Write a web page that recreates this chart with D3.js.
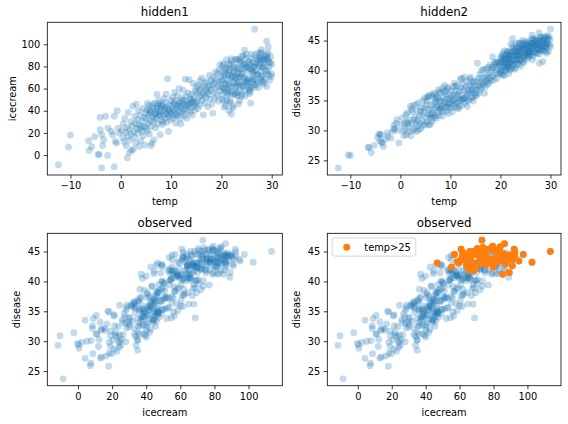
<!DOCTYPE html>
<html><head><meta charset="utf-8">
<script src="https://cdn.jsdelivr.net/npm/d3@7"></script>
<style>
body{margin:0;background:#fff}
svg{display:block}
text{font-family:"DejaVu Sans",sans-serif;fill:#000}
</style>
</head><body>
<svg id="chart" width="568" height="424"></svg>
<script>
// ---------- data ----------
const temp = [
 -12.4,-10.4,-10.0,-6.4,-6.3,-5.8,-5.2,-4.5,-4.3,-3.8,
 -4.1,-3.0,-2.6,-1.3,-1.3,-0.7,-4.1,-3.8,-3.4,-3.6,
 -2.5,-1.9,-1.6,-1.1,-0.8,-0.5,-0.3,1.3,
 0.2,0.4,0.5,0.7,0.8,1.0,1.1,1.2,1.4,1.5,
 1.6,1.7,1.8,2.0,2.1,2.2,2.3,2.4,2.5,2.6,
 2.7,2.8,2.9,3.0,3.1,3.2,3.3,3.4,3.5,3.6,
 3.7,3.8,3.9,4.0,4.1,4.2,4.3,4.4,4.5,4.6,
 4.7,4.8,4.9,5.0,
 5.1,5.2,5.3,5.4,5.5,5.6,5.7,5.8,5.9,6.0,
 6.1,6.2,6.3,6.4,6.5,6.6,6.7,6.8,6.9,7.0,
 7.1,7.2,7.3,7.4,7.5,7.6,7.7,7.8,7.9,8.0,
 8.1,8.2,8.3,8.4,8.5,8.6,8.7,8.8,8.9,9.0,
 9.1,9.2,9.3,9.4,9.5,9.6,9.7,9.8,9.9,10.0,
 5.3,6.0,6.6,7.2,7.8,8.4,9.0,9.6,8.0,7.0,
 6.3,5.7,8.8,9.4,7.5,
 10.1,10.2,10.3,10.4,10.5,10.6,10.7,10.8,10.9,11.0,
 11.1,11.2,11.3,11.4,11.5,11.6,11.7,11.8,11.9,12.0,
 12.1,12.2,12.3,12.4,12.5,12.6,12.7,12.8,12.9,13.0,
 13.1,13.2,13.3,13.4,13.5,13.6,13.7,13.8,13.9,14.0,
 14.1,14.2,14.3,14.4,14.5,14.6,14.7,14.8,14.9,15.0,
 10.4,11.0,11.6,12.2,12.8,13.4,14.0,14.6,10.8,12.0,
 15.1,15.2,15.3,15.4,15.5,15.6,15.7,15.8,15.9,16.0,
 16.1,16.2,16.3,16.4,16.5,16.6,16.7,16.8,16.9,17.0,
 17.1,17.2,17.3,17.4,17.5,17.6,17.7,17.8,17.9,18.0,
 18.1,18.2,18.3,18.4,18.5,18.6,18.7,18.8,18.9,19.0,
 19.1,19.2,19.3,19.4,19.5,19.6,19.7,19.8,19.9,20.0,
 20.1,20.2,20.3,20.4,20.5,20.6,20.7,20.8,20.9,21.0,
 21.1,21.2,21.3,21.4,21.5,21.6,21.7,21.8,21.9,22.0,
 22.1,22.2,22.3,22.4,22.5,22.6,22.7,22.8,22.9,23.0,
 23.1,23.2,23.3,23.4,23.5,23.6,23.7,23.8,23.9,24.0,
 24.1,24.2,24.3,24.4,24.5,24.6,24.7,24.8,24.9,25.0,
 20.05,20.15,20.25,20.35,20.45,20.55,20.65,20.75,20.85,20.95,
 21.05,21.15,21.25,21.35,21.45,21.55,21.65,21.75,21.85,21.95,
 22.05,22.15,22.25,22.35,22.45,22.55,22.65,22.75,22.85,22.95,
 23.05,23.15,23.25,23.35,23.45,23.55,23.65,23.75,23.85,23.95,
 24.05,24.15,24.25,24.35,24.45,24.55,24.65,24.75,24.85,24.95,
 22.0,21.5,23.4,
 25.1,25.2,25.3,25.4,25.5,25.6,25.7,25.8,25.9,26.0,
 26.1,26.2,26.3,26.4,26.5,26.6,26.7,26.8,26.9,27.0,
 27.1,27.2,27.3,27.4,27.5,27.6,27.7,27.8,27.9,28.0,
 28.1,28.2,28.3,28.4,28.5,28.6,28.7,28.8,28.9,29.0,
 29.1,29.2,29.3,29.4,29.5,29.6,29.7,29.8,29.9,30.0,
 25.15,25.35,25.55,25.75,25.95,26.15,26.35,26.55,26.75,26.95,
 27.15,27.35,27.55,27.75,27.95,28.15,28.35,28.55,28.75,28.95,
 25.8,26.6,29.0,29.3,28.0,27.2,28.5,27.8,30.0,27.7,
 26.3,25.5,25.6,26.0,26.4,25.3,29.2,29.4
];
const icecream = [
 -8.7,7.2,18.0,13.0,4.2,7.5,16.5,0.6,0.4,-11.7,
 34.0,35.0,-0.3,-10.5,35.0,40.0,22.8,18.3,13.8,8.7,
 24.3,21.3,18.3,12.3,10.8,24.3,19.8,-2.4,
 22.0,15.5,28.0,12.0,33.0,20.5,8.5,25.0,17.0,38.5,
 23.0,2.4,13.5,30.0,19.0,4.2,26.5,44.0,5.4,21.0,
 16.0,35.0,28.5,11.0,46.0,24.0,32.0,19.5,40.0,27.0,
 7.8,23.5,36.0,13.0,25.5,30.5,21.5,42.0,17.5,34.0,
 26.0,9.0,38.0,24.5,
 33.0,41.0,22.0,28.5,36.5,44.5,19.0,31.0,38.0,8.4,
 26.0,10.8,35.0,42.5,30.0,13.8,47.0,37.5,24.5,40.0,
 33.5,54.7,44.0,28.0,38.5,49.0,35.5,18.3,42.0,31.5,
 46.0,39.0,27.5,44.5,36.0,51.0,40.5,33.0,47.5,37.0,
 43.0,29.5,68.8,41.5,21.3,35.0,45.5,38.5,32.0,49.5,
 46.5,39.5,33.0,42.5,36.5,30.0,55.0,40.0,44.0,37.0,
 45.5,40.5,42.0,36.5,46.5,
 38.0,44.5,52.0,33.5,47.0,40.5,56.5,36.0,28.8,49.0,
 42.5,35.0,53.5,45.0,39.5,60.0,47.5,33.0,28.2,44.0,
 51.0,37.5,46.5,58.5,41.0,49.5,35.5,68.5,44.5,53.0,
 33.3,47.0,40.0,56.0,45.5,68.0,50.5,38.5,47.5,43.0,
 55.0,36.0,49.0,64.6,44.0,52.5,40.5,58.0,46.5,61.5,
 41.0,37.0,44.0,49.0,42.0,45.0,50.0,47.0,46.0,39.0,
 48.0,56.5,42.0,63.0,51.5,58.0,45.0,67.0,53.5,60.5,
 69.4,49.5,56.0,36.3,62.0,54.0,47.0,64.9,59.0,52.0,
 66.5,57.0,43.5,61.0,55.0,72.0,62.5,50.5,58.5,67.5,
 46.0,63.5,37.8,70.0,56.5,65.0,51.0,75.0,60.0,68.0,
 54.0,73.5,62.0,48.5,66.0,77.0,81.4,58.0,70.5,64.0,
 67.2,50.4,80.6,59.8,72.0,43.2,64.4,77.6,56.8,86.0,
 49.2,67.4,55.6,75.8,64.0,72.2,47.4,81.6,60.8,84.5,
 55.2,70.4,42.6,78.8,65.0,75.2,54.4,86.6,61.8,70.0,
 73.2,56.4,86.6,65.8,78.0,49.2,70.4,83.6,62.8,89.0,
 55.2,73.4,61.6,81.8,70.0,94.6,53.4,87.6,66.8,79.0,
 54.1,75.3,60.5,82.7,48.9,69.1,59.3,73.5,44.7,78.9,
 64.1,54.3,72.5,58.7,81.9,62.1,77.3,49.5,69.7,86.9,
 57.1,71.3,44.5,75.7,65.9,81.1,55.3,69.5,60.7,85.9,
 64.1,79.3,53.5,74.7,69.9,58.1,85.3,64.5,77.7,52.9,
 73.1,83.3,62.5,89.7,68.9,78.1,58.3,81.5,65.7,91.0,
 37.0,40.0,46.0,
 79.1,64.2,75.4,59.5,84.6,69.7,81.8,57.0,77.1,87.2,
 68.3,74.4,83.6,63.7,79.8,72.9,90.0,67.2,76.3,63.4,
 82.5,72.6,85.8,60.9,80.0,88.1,69.2,75.4,92.5,66.6,
 78.7,71.8,86.0,64.1,83.2,80.3,68.4,88.6,73.7,61.8,
 85.9,76.0,92.2,72.3,79.4,67.5,83.6,88.8,70.9,82.0,
 68.2,83.4,61.7,77.9,91.1,66.4,75.6,60.9,82.1,87.3,
 72.6,65.8,82.1,91.3,70.5,79.8,66.0,86.3,76.5,90.7,
 46.8,113.5,102.7,97.6,95.0,92.4,89.3,85.4,73.2,86.5,
 79.5,55.3,58.6,61.5,68.4,65.4,87.0,84.0
];
const disease = [
 23.7,25.9,25.8,27.2,27.1,26.3,27.5,28.8,29.4,29.3,
 29.3,28.5,29.6,30.9,30.2,31.8,28.3,28.0,27.3,27.9,
 29.0,28.7,29.8,30.3,31.2,30.0,27.9,31.4,
 31.0,32.1,29.9,29.1,31.1,30.2,32.6,29.3,32.9,31.2,
 30.7,29.8,31.8,34.0,29.1,33.5,31.1,33.1,30.0,34.2,
 31.8,30.2,32.2,31.2,34.3,29.8,33.3,31.7,30.7,34.6,
 30.1,32.4,31.2,33.2,30.3,33.8,32.6,31.5,35.0,30.8,
 33.1,33.8,35.4,31.0,
 32.1,34.3,31.4,35.6,32.6,33.5,30.9,35.9,32.7,32.1,
 33.6,34.3,31.5,35.7,32.8,32.1,34.6,33.5,36.0,32.4,
 34.8,33.9,35.6,33.0,34.1,36.8,32.5,34.9,33.8,36.2,
 33.4,34.9,34.0,37.0,33.1,35.4,34.4,36.5,34.8,33.9,
 35.9,33.2,33.9,35.3,34.4,36.9,34.7,33.8,35.8,35.3,
 34.9,31.0,36.2,32.0,36.4,32.4,36.5,32.8,33.6,35.3,
 32.5,35.6,37.5,37.2,35.3,
 34.5,36.6,33.8,35.8,34.9,37.3,34.2,35.1,36.0,34.6,
 36.6,33.8,35.6,37.5,34.7,35.9,34.0,36.6,35.2,35.0,
 37.1,34.1,35.9,35.1,37.8,35.3,36.7,38.9,34.5,37.2,
 35.5,38.2,35.9,34.9,36.7,36.2,37.5,35.1,38.6,36.4,
 37.5,35.4,36.6,38.1,36.9,35.6,38.1,36.2,37.4,35.8,
 33.1,37.4,33.6,38.7,35.3,34.0,38.9,34.9,37.9,38.5,
 36.8,38.3,35.9,41.2,37.3,38.7,36.3,37.6,39.4,36.8,
 38.1,40.0,37.2,38.7,37.7,40.2,38.1,36.2,38.9,37.3,
 40.2,38.3,39.2,37.7,40.5,38.6,37.9,39.6,40.9,38.8,
 38.3,40.1,40.5,42.3,39.1,40.5,38.4,41.4,41.0,39.5,
 41.3,40.1,38.7,41.4,40.5,39.4,41.3,40.9,39.6,42.2,
 41.4,39.8,42.5,40.6,42.1,39.2,41.3,43.3,40.6,41.9,
 40.0,42.5,41.3,43.2,40.6,42.0,39.5,42.4,41.3,43.0,
 44.4,40.3,42.4,45.3,41.0,43.7,41.8,43.3,40.4,42.5,
 44.5,41.8,43.1,41.2,43.7,42.5,44.5,41.8,43.2,40.7,
 43.6,42.5,44.2,45.0,41.5,43.7,42.1,44.8,42.9,44.4,
 40.2,41.8,39.4,41.3,42.9,40.2,42.2,39.2,41.7,41.2,
 42.7,40.3,42.1,41.1,43.1,40.4,42.0,42.7,40.1,42.4,
 41.7,43.2,41.3,44.0,40.7,42.5,41.7,43.1,40.2,43.4,
 42.5,41.4,44.0,41.9,43.1,41.0,43.7,42.6,44.6,41.8,
 43.7,42.9,41.8,44.5,42.4,43.6,41.3,44.2,43.6,42.9,
 41.2,40.9,42.7,
 43.7,42.7,44.6,43.1,44.2,42.3,43.6,44.5,43.1,44.1,
 42.7,45.2,43.6,44.5,42.4,44.1,44.4,43.0,45.2,43.7,
 44.8,43.0,44.2,43.6,45.2,43.5,44.5,42.8,44.9,44.2,
 45.6,43.6,44.6,44.0,45.4,43.3,45.0,44.3,45.7,44.0,
 44.6,43.7,45.4,44.4,45.2,43.2,45.6,44.3,45.2,44.0,
 42.6,44.0,44.9,43.2,42.6,44.5,43.6,45.4,43.2,44.2,
 45.0,42.8,44.6,43.7,45.5,43.4,45.0,44.4,45.4,44.0,
 43.1,45.0,43.2,44.5,43.4,44.3,41.5,41.2,46.9,46.3,
 45.9,42.4,43.3,44.0,41.8,41.9,42.9,45.8
];
const tempTicks = [-10, 0, 10, 20, 30];
const icecreamTicks = [0, 20, 40, 60, 80, 100];
const diseaseTicks = [25, 30, 35, 40, 45];
const panelTitles = ["hidden1", "hidden2", "observed", "observed"];
const legendLabel = "temp>25";
const highlightThreshold = 25;

// ---------- drawing ----------
const BLUE = "#1f77b4", ORANGE = "#ff7f0e";
const FS = 9.86, TFS = 11.8, R = 3.45;
const svg = d3.select("#chart");
svg.append("rect").attr("width", 568).attr("height", 424).attr("fill", "#fff");

const rows = d3.range(temp.length).map(i => ({t: temp[i], ic: icecream[i], d: disease[i]}));

const colX = [[47.3, 282.3], [327.3, 561.0]];
const rowY = [[22.3, 175.0], [233.3, 385.7]];
const tempDomain = [-14.6, 32.1];
const iceDomain = [-18.0, 119.8];
const disDomain = [22.55, 48.05];

const panels = [
  {c:0, r:0, xk:"t",  yk:"ic", xd:tempDomain, yd:iceDomain, xt:tempTicks, yt:icecreamTicks, xl:"temp", yl:"icecream", ylx:12.0, hl:false},
  {c:1, r:0, xk:"t",  yk:"d",  xd:tempDomain, yd:disDomain, xt:tempTicks, yt:diseaseTicks, xl:"temp", yl:"disease", ylx:296.5, hl:false},
  {c:0, r:1, xk:"ic", yk:"d",  xd:iceDomain, yd:disDomain, xt:icecreamTicks, yt:diseaseTicks, xl:"icecream", yl:"disease", ylx:16.3, hl:false},
  {c:1, r:1, xk:"ic", yk:"d",  xd:iceDomain, yd:disDomain, xt:icecreamTicks, yt:diseaseTicks, xl:"icecream", yl:"disease", ylx:296.5, hl:true}
];

panels.forEach((p, idx) => {
  const [x0, x1] = colX[p.c], [y0, y1] = rowY[p.r];
  const x = d3.scaleLinear().domain(p.xd).range([x0, x1]);
  const y = d3.scaleLinear().domain(p.yd).range([y1, y0]);
  const g = svg.append("g");

  g.append("g").selectAll("circle").data(rows).join("circle")
    .attr("cx", d => x(d[p.xk])).attr("cy", d => y(d[p.yk])).attr("r", R)
    .attr("fill", BLUE).attr("fill-opacity", 0.27);

  if (p.hl) {
    g.append("g").selectAll("circle").data(rows.filter(d => d.t > highlightThreshold)).join("circle")
      .attr("cx", d => x(d[p.xk])).attr("cy", d => y(d[p.yk])).attr("r", R)
      .attr("fill", ORANGE);
  }

  const fmt = d => String(d).replace("-", "\u2212");
  const ax = g.append("g").attr("transform", `translate(0,${y1})`)
    .call(d3.axisBottom(x).tickValues(p.xt).tickFormat(fmt).tickSize(3.5).tickPadding(3.5).tickSizeOuter(0));
  const ay = g.append("g").attr("transform", `translate(${x0},0)`)
    .call(d3.axisLeft(y).tickValues(p.yt).tickFormat(fmt).tickSize(3.5).tickPadding(3.5).tickSizeOuter(0));
  [ax, ay].forEach(a => {
    a.select(".domain").remove();
    a.selectAll("line").attr("stroke", "#000").attr("stroke-width", 0.8);
    a.selectAll("text").attr("font-size", FS).attr("font-family", "DejaVu Sans").attr("fill", "#000");
  });

  g.append("rect").attr("x", x0).attr("y", y0).attr("width", x1 - x0).attr("height", y1 - y0)
    .attr("fill", "none").attr("stroke", "#000").attr("stroke-width", 0.8);

  g.append("text").attr("x", (x0 + x1) / 2).attr("y", y0 - 5.9)
    .attr("text-anchor", "middle").attr("font-size", TFS).text(panelTitles[idx]);
  g.append("text").attr("x", (x0 + x1) / 2).attr("y", y1 + 30)
    .attr("text-anchor", "middle").attr("font-size", FS).text(p.xl);
  g.append("text").attr("transform", `translate(${p.ylx},${(y0 + y1) / 2}) rotate(-90)`)
    .attr("text-anchor", "middle").attr("dominant-baseline", "central").attr("font-size", FS).text(p.yl);

  if (p.hl) {
    const lg = g.append("g");
    lg.append("rect").attr("x", 332.2).attr("y", 237.9).attr("width", 83.6).attr("height", 18.2)
      .attr("rx", 2.5).attr("fill", "#fff").attr("fill-opacity", 0.8).attr("stroke", "#ccc").attr("stroke-width", 0.8);
    lg.append("circle").attr("cx", 346.7).attr("cy", 247.2).attr("r", R).attr("fill", ORANGE);
    lg.append("text").attr("x", 364.3).attr("y", 247.2).attr("dominant-baseline", "central").attr("font-size", FS).text(legendLabel);
  }
});
</script>
</body></html>
